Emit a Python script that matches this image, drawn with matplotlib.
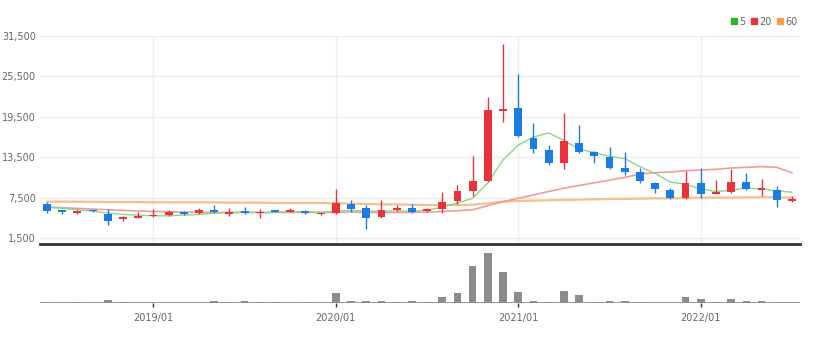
import numpy as np
import pandas as pd
import matplotlib
matplotlib.use("Agg")
import matplotlib.pyplot as plt
from matplotlib.lines import Line2D

plt.rcParams["font.family"] = ["Liberation Sans Narrow", "DejaVu Sans"]

# monthly candles, 2018/06 .. 2022/07
months = list(pd.period_range("2018-06", "2022-07", freq="M").strftime("%Y/%m"))
tick_labels = ["2019/01", "2020/01", "2021/01", "2022/01"]

open_ = [6500, 5600, 5200, 5700, 5100, 4300, 4500, 4700, 4900, 5300,
         5200, 5700, 5100, 5500, 5200, 5600, 5400, 5500, 5000, 5200,
         6600, 6000, 4600, 5600, 6000, 5500, 5800, 7000, 8500, 10000,
         20300, 20800, 16300, 14600, 12700, 15600, 14300, 13600, 11900, 11300,
         9700, 8700, 7400, 9700, 8100, 8400, 9800, 8700, 8700, 7000]
close = [5500, 5300, 5500, 5450, 4000, 4600, 4700, 4900, 5300, 5100,
         5600, 5300, 5400, 5200, 5400, 5400, 5600, 5200, 5200, 6700,
         5800, 4500, 5600, 5900, 5400, 5800, 6900, 8500, 9900, 20500,
         20600, 16600, 14700, 12600, 15900, 14300, 13700, 11900, 11300, 9900,
         8800, 7400, 9700, 8000, 8400, 9800, 8800, 8800, 7100, 7300]
high = [6800, 5650, 5600, 5800, 5800, 4700, 5400, 5800, 5700, 5500,
        5900, 6400, 5950, 6100, 5800, 5700, 5900, 5700, 5400, 8800,
        7200, 6400, 7200, 6400, 6600, 5950, 8300, 9400, 13700, 22400,
        30300, 25900, 18600, 15300, 20100, 18300, 14400, 15000, 14300, 11900,
        9800, 8900, 11500, 11900, 10100, 11700, 11100, 10200, 9200, 7800]
low = [5200, 5000, 5100, 5350, 3400, 4100, 4400, 4600, 4800, 4900,
       5100, 5200, 4800, 5100, 4500, 5300, 5300, 5100, 4900, 5100,
       5400, 2800, 4400, 5500, 5200, 5400, 5200, 6600, 7800, 9800,
       18700, 16500, 14100, 12300, 11800, 14100, 12600, 11800, 10800, 9700,
       8200, 7300, 7300, 7400, 8000, 8200, 8700, 7800, 6100, 6900]
volume = [15, 0, 15, 0, 28, 15, 0, 0, 0, 0,
          0, 18, 15, 25, 15, 15, 0, 15, 0, 100,
          18, 18, 25, 15, 18, 15, 63, 100, 367, 500,
          310, 110, 25, 15, 117, 83, 15, 18, 25, 15,
          0, 0, 63, 37, 15, 40, 20, 20, 15, 15]

ma5 = [6100, 5900, 5700, 5500, 5200, 5000, 4900, 4800, 4800, 4900,
       5000, 5200, 5300, 5300, 5300, 5300, 5400, 5400, 5300, 5500,
       5600, 5500, 5500, 5500, 5500, 5600, 6100, 6700, 7400, 9700,
       13100, 15300, 16500, 17100, 16000, 14700, 14200, 13600, 13300, 12100,
       11100, 9800, 9500, 8800, 8400, 8600, 8900, 8800, 8500, 8300]
ma20 = [6100, 6000, 5900, 5800, 5700, 5600, 5500, 5450, 5400, 5350,
        5300, 5300, 5300, 5300, 5300, 5300, 5300, 5300, 5300, 5300,
        5350, 5300, 5300, 5300, 5300, 5350, 5450, 5550, 5700, 6300,
        6900, 7400, 7900, 8400, 8900, 9300, 9700, 10100, 10500, 11000,
        11200, 11300, 11500, 11600, 11700, 11900, 12000, 12100, 12000, 11200]
ma60 = [6900, 6900, 6900, 6900, 6850, 6850, 6850, 6800, 6800, 6800,
        6800, 6800, 6750, 6750, 6750, 6700, 6700, 6700, 6700, 6650,
        6600, 6550, 6500, 6500, 6450, 6400, 6400, 6400, 6450, 6650,
        6900, 7000, 7050, 7100, 7150, 7200, 7250, 7300, 7300, 7350,
        7400, 7400, 7450, 7500, 7500, 7500, 7550, 7550, 7550, 7500]

up_color = "#e8333c"
down_color = "#1c7ce6"
ma_colors = {"5": "#86d986", "20": "#f29b9b", "60": "#f5c08a"}
legend_colors = {"5": "#2bb52b", "20": "#e8333c", "60": "#f0a04a"}

fig = plt.figure(figsize=(8.16, 3.4), dpi=100)
ax = fig.add_axes([40 / 816, 96 / 340, 760 / 816, 208 / 340])
axv = fig.add_axes([40 / 816, 37 / 340, 760 / 816, 54 / 340], sharex=ax)

x = np.arange(len(months))
o = np.array(open_)
c = np.array(close)
colors = [up_color if cc >= oo else down_color for oo, cc in zip(o, c)]

# moving averages under the candles
ax.plot(x, ma60, color=ma_colors["60"], lw=1.6, zorder=2)
ax.plot(x, ma20, color=ma_colors["20"], lw=1.2, zorder=2)
ax.plot(x, ma5, color=ma_colors["5"], lw=1.0, zorder=2)

ax.vlines(x, low, high, colors=colors, lw=1.0, zorder=3)
body = np.maximum(np.abs(c - o), 180)
bottom = np.minimum(o, c)
ax.bar(x, body, bottom=bottom, width=0.52, color=colors, zorder=4)

ax.set_xlim(-0.46, 49.53)
ax.set_ylim(612, 31500)
yt = list(range(1500, 31501, 6000))
ax.set_yticks(yt)
ax.set_yticklabels([f"{v:,}" for v in yt])
ax.tick_params(axis="y", length=0, labelsize=7, colors="#666666", pad=3)
ax.tick_params(axis="x", length=0, labelbottom=False)
tick_pos = [months.index(t) for t in tick_labels]
ax.set_xticks(tick_pos)
ax.grid(True, color="#eeeeee", lw=1.0, zorder=0)
for s in ["top", "right", "left"]:
    ax.spines[s].set_visible(False)
ax.spines["bottom"].set_color("#333333")
ax.spines["bottom"].set_linewidth(2.0)

# volume panel
axv.bar(x, volume, width=0.5, color="#8c8c8c", zorder=3)
axv.axhline(0, color="#8c8c8c", lw=2.0, zorder=2)
axv.set_ylim(0, 540)
axv.set_yticks([])
for s in ["top", "right", "left", "bottom"]:
    axv.spines[s].set_visible(False)
axv.set_xticks(tick_pos)
axv.set_xticklabels(tick_labels)
axv.tick_params(axis="x", length=3, width=1, color="#333333", labelsize=7,
                labelcolor="#666666", pad=4)

handles = [Line2D([], [], marker="s", ls="none", color=legend_colors[k],
                  markersize=5) for k in ["5", "20", "60"]]
fig.legend(handles, ["5", "20", "60"], loc="upper right",
           bbox_to_anchor=(806 / 816, 1 - 8 / 340), ncol=3, frameon=False,
           fontsize=7, handletextpad=0.1, columnspacing=0.5, handlelength=0.8,
           labelcolor="#666666")

fig.savefig("out.png", dpi=100)
